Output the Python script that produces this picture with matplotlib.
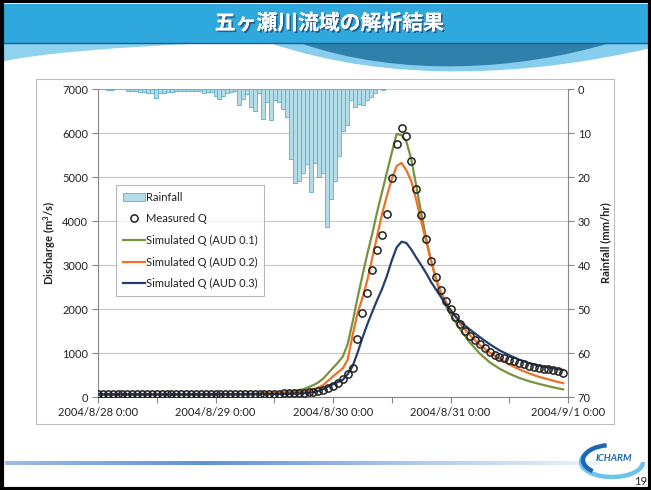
import matplotlib
matplotlib.use("Agg")
import matplotlib.pyplot as plt
import matplotlib.patches as mpatches
from matplotlib.lines import Line2D
from matplotlib.path import Path
from matplotlib.colors import LinearSegmentedColormap
import matplotlib.patheffects as pe
import numpy as np

plt.rcParams['font.family'] = ['Lato', 'DejaVu Sans']
plt.rcParams['mathtext.default'] = 'regular'

# ---------------- data ----------------
title_text = "五ヶ瀬川流域の解析結果"
x_tick_labels = ["2004/8/28 0:00", "2004/8/29 0:00", "2004/8/30 0:00",
                 "2004/8/31 0:00", "2004/9/1 0:00"]
label_hours = [0, 24, 48, 72, 96]
minor_hours = [12, 36, 60, 84]

measured_hours = list(range(96))
measured_q = [60, 60, 60, 59, 59, 59, 58, 58, 58, 58,
              57, 57, 57, 57, 57, 57, 58, 58, 58, 59,
              59, 60, 60, 61, 62, 63, 64, 65, 66, 67,
              68, 69, 70, 72, 73, 75, 77, 79, 81, 84,
              87, 91, 96, 104, 116, 135, 160, 195, 240, 310,
              420, 520, 670, 1310, 1900, 2370, 2880, 3340, 3680, 4150,
              4970, 5740, 6120, 5930, 5360, 4730, 4130, 3590, 3090, 2730,
              2430, 2190, 2000, 1810, 1660, 1510, 1390, 1300, 1200, 1110,
              1020, 950, 915, 880, 840, 810, 780, 745, 710, 680,
              660, 645, 630, 615, 590, 555]

sim_hours = [0, 4, 8, 12, 16, 20, 24, 28, 32, 36, 38, 40, 42, 44, 45, 46, 47,
             48, 49, 50, 51, 52, 53, 54, 55, 56, 57, 58, 59, 60, 61, 62, 63,
             64, 65, 66, 67, 68, 69, 70, 71, 72, 74, 76, 78, 80, 82, 84, 86,
             88, 90, 92, 94, 95]
sim_aud01 = [60, 60, 60, 60, 60, 61, 63, 66, 72, 88, 105, 135, 180, 270, 330, 420, 540,
             660, 780, 920, 1200, 1700, 2250, 2750, 3250, 3700, 4200, 4650, 5100, 5550, 5980, 5950, 5800,
             5400, 4800, 4200, 3620, 3120, 2700, 2330, 2080, 1880, 1530, 1230, 985, 790, 645, 530, 435,
             360, 300, 245, 195, 175]
sim_aud02 = [60, 60, 60, 60, 60, 60, 61, 63, 67, 78, 88, 100, 125, 175, 215, 270, 370,
             470, 560, 650, 850, 1400, 1900, 2250, 2650, 3150, 3650, 4150, 4570, 4950, 5250, 5320, 5150,
             4900, 4480, 4000, 3550, 3100, 2700, 2400, 2170, 1990, 1660, 1400, 1180, 1010, 870, 740, 630,
             540, 460, 400, 340, 315]
sim_aud03 = [60, 60, 59, 58, 58, 59, 60, 61, 63, 66, 69, 75, 85, 110, 140, 180, 240,
             290, 340, 390, 520, 700, 1000, 1340, 1650, 1930, 2200, 2450, 2750, 3100, 3400, 3530, 3500,
             3350, 3170, 3000, 2820, 2620, 2450, 2280, 2120, 1970, 1710, 1530, 1360, 1200, 1060, 950, 850,
             770, 710, 670, 630, 615]

rain_mm = [0, 0, 0.2, 0.2, 0, 0, 0, 0.5, 0.5, 0.5,
           0.7, 0.7, 0.8, 0.8, 2.0, 0.8, 0.8, 0.6, 0.6, 0.4,
           0.4, 0.4, 0.4, 0.5, 0.5, 0.5, 1.0, 0.6, 0.6, 1.5,
           2.3, 1.5, 1.0, 0.6, 0.4, 3.6, 2.3, 1.1, 4.2, 5.1,
           0.8, 6.8, 3.0, 7.0, 2.6, 3.0, 4.5, 6.4, 15.9, 21.4,
           20.8, 19.2, 17.0, 23.5, 16.9, 19.9, 19.2, 31.3, 25.0, 20.8,
           15.2, 9.5, 8.1, 2.5, 4.0, 3.3, 3.6, 2.5, 1.9, 1.0,
           0, 0.3]
rain_slots = 118

series_names = ["Rainfall", "Measured Q", "Simulated Q (AUD 0.1)",
                "Simulated Q (AUD 0.2)", "Simulated Q (AUD 0.3)"]
line_colors = ["#77933C", "#F07025", "#243F6E"]

# ---------------- figure ----------------
W, H = 651, 490
fig = plt.figure(figsize=(6.51, 4.9), dpi=100)
fig.patch.set_facecolor("white")

deco = fig.add_axes([0, 0, 1, 1])
deco.axis("off")

# title bar
deco.add_patch(mpatches.Rectangle((0, 4), W, 39, facecolor="#2FA8DD", edgecolor="none", zorder=1))
# wave decoration
verts = [(0, 43), (210, 43), (120, 47), (40, 53), (0, 62), (0, 43)]
codes = [Path.MOVETO, Path.LINETO, Path.CURVE4, Path.CURVE4, Path.CURVE4, Path.CLOSEPOLY]
deco.add_patch(mpatches.PathPatch(Path(verts, codes), facecolor="#8FD2F0", edgecolor="none", zorder=1))
verts = [(270, 43), (390, 84), (530, 76), (651, 48), (651, 43), (270, 43)]
codes = [Path.MOVETO, Path.CURVE4, Path.CURVE4, Path.CURVE4, Path.LINETO, Path.CLOSEPOLY]
deco.add_patch(mpatches.PathPatch(Path(verts, codes), facecolor="#86CDEE", edgecolor="none", zorder=1))
verts = [(300, 43), (400, 78), (520, 70), (610, 43), (300, 43)]
codes = [Path.MOVETO, Path.CURVE4, Path.CURVE4, Path.CURVE4, Path.CLOSEPOLY]
deco.add_patch(mpatches.PathPatch(Path(verts, codes), facecolor="#2F80AA", edgecolor="none", zorder=1))
deco.plot([0, W], [43, 43], color="#1D5E9A", lw=1.0, zorder=2)

deco.text(W / 2 + 4, 23, title_text, color="white", fontsize=15, fontweight="bold",
          ha="center", va="center", family=["Noto Sans CJK JP", "DejaVu Sans"], zorder=3,
          path_effects=[pe.withSimplePatchShadow(offset=(1.2, -1.2), shadow_rgbFace="#1B3F66", alpha=0.7),
                        pe.Normal()])

# chart frame
deco.add_patch(mpatches.Rectangle((36, 79), 578, 345, facecolor="white", edgecolor="#BFBFBF", lw=0.8, zorder=1))

# bottom gradient line
cmap = LinearSegmentedColormap.from_list("g", ["#9DBDE6", "#5F92D6", "#A9C5EC", "#EEF3FB"])
deco.imshow(np.linspace(0, 1, 256).reshape(1, -1), cmap=cmap, extent=(5, 600, 464.5, 460.5),
            aspect="auto", zorder=1)

# logo
deco.add_patch(mpatches.Arc((612, 462), 62, 30, theta1=0, theta2=200, color="#6CC4EC", lw=3.2, zorder=2))
deco.add_patch(mpatches.Arc((612, 460), 58, 30, theta1=150, theta2=250, color="#1E67B0", lw=3.2, zorder=2))
deco.text(614, 458, "ICHARM", color="#1E67B0", fontsize=7, fontweight="bold", style="italic",
          ha="center", va="center", zorder=3)
deco.text(641, 481, "19", color="#222222", fontsize=8, ha="center", va="center", zorder=3)

# slide border
deco.add_patch(mpatches.Rectangle((1.5, 1.5), W - 3, H - 3, facecolor="none", edgecolor="black", lw=3, zorder=5))
deco.set_xlim(0, W)
deco.set_ylim(H, 0)

# ---------------- main chart ----------------
rect = [98 / W, (H - 397) / H, 470 / W, 308 / H]
ax = fig.add_axes(rect)
ax.set_facecolor("none")
ax.set_xlim(0, 96)
ax.set_ylim(0, 7000)
ax.set_yticks(range(0, 7001, 1000))
ax.yaxis.grid(True, color="#C8C8C8", lw=0.8)
ax.set_axisbelow(True)
ax.set_xticks(label_hours)
ax.set_xticklabels(x_tick_labels)
ax.set_xticks(minor_hours, minor=True)
ax.tick_params(axis="both", which="both", direction="out", length=4, width=0.8, color="#868686",
               labelsize=8, labelcolor="#222222", pad=3)
for s in ["top", "right"]:
    ax.spines[s].set_visible(False)
for s in ["left", "bottom"]:
    ax.spines[s].set_color("#868686")
    ax.spines[s].set_linewidth(0.8)
ax.set_ylabel("Discharge (m$^3$/s)", fontsize=8, fontweight="bold", color="#222222")
ax.yaxis.set_label_coords(-0.086, 0.5)

l1, = ax.plot(sim_hours, sim_aud01, color=line_colors[0], lw=1.6, zorder=3)
l2, = ax.plot(sim_hours, sim_aud02, color=line_colors[1], lw=1.6, zorder=3)
l3, = ax.plot(sim_hours, sim_aud03, color=line_colors[2], lw=1.6, zorder=3)
mq, = ax.plot(measured_hours, measured_q, ls="none", marker="o", ms=5.2, mfc="none",
              mec="#222222", mew=1.1, zorder=4)

# rainfall on its own category axis
axr = fig.add_axes(rect)
axr.set_facecolor("none")
rb = axr.bar(np.arange(len(rain_mm)), rain_mm, width=1.0, align="edge",
             color="#B3DDE9", edgecolor="#5AAFC8", lw=0.6)
axr.set_xlim(0, rain_slots)
axr.set_ylim(70, 0)
axr.set_yticks(range(0, 71, 10))
axr.xaxis.set_visible(False)
axr.yaxis.tick_right()
axr.yaxis.set_label_position("right")
axr.tick_params(axis="y", direction="out", length=4, width=0.8, color="#868686",
                labelsize=8, labelcolor="#222222", pad=3)
for s in ["top", "left", "bottom"]:
    axr.spines[s].set_visible(False)
axr.spines["right"].set_color("#868686")
axr.spines["right"].set_linewidth(0.8)
axr.set_ylabel("Rainfall (mm/hr)", fontsize=8, fontweight="bold", color="#222222")
axr.yaxis.set_label_coords(1.068, 0.5)

handles = [rb.patches[0], mq, l1, l2, l3]
leg = axr.legend(handles, series_names, loc="upper left", bbox_to_anchor=(0.038, 0.688),
                 fontsize=8, frameon=True, fancybox=False, edgecolor="#A6A6A6",
                 handlelength=2.0, handletextpad=0.1, labelspacing=0.95, borderpad=0.6,
                 borderaxespad=0)
leg.get_frame().set_linewidth(0.8)
for t in leg.get_texts():
    t.set_color("#222222")

fig.savefig("out.png", dpi=100)
